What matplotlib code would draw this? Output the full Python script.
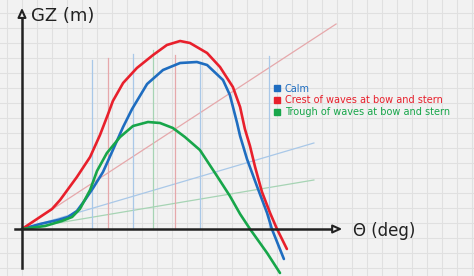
import numpy as np
import matplotlib
matplotlib.use("Agg")
import matplotlib.pyplot as plt
from matplotlib.lines import Line2D

# stability curves (heel angle in deg, GZ in m)
calm_theta = [0, 6, 12, 15.3, 18.3, 21, 23.7, 27, 30.3, 33.7, 36.7, 41.7, 47, 52.7, 58.3,
              61.7, 67, 69.3, 71.7, 72.7, 75, 78.3, 81.7, 83.3, 87.3]
calm_gz = [0, 0.025, 0.045, 0.06, 0.09, 0.145, 0.205, 0.285, 0.395, 0.51, 0.6, 0.725, 0.795,
           0.83, 0.835, 0.82, 0.745, 0.67, 0.53, 0.465, 0.35, 0.215, 0.08, 0, -0.15]

crest_theta = [0, 5, 10, 12.7, 18.3, 22.7, 26, 28.7, 30.3, 33.7, 38.3, 43.7, 48.3, 52.7,
               56, 61.7, 66, 70.3, 72.7, 74.3, 76, 77.7, 80, 82.7, 85, 88.3]
crest_gz = [0, 0.05, 0.10, 0.145, 0.26, 0.36, 0.47, 0.575, 0.64, 0.73, 0.805, 0.87, 0.92,
            0.94, 0.93, 0.88, 0.81, 0.71, 0.61, 0.5, 0.415, 0.31, 0.185, 0.08, 0, -0.10]

trough_theta = [0, 7.7, 13.3, 16.7, 19.3, 22.7, 25, 28.3, 32.7, 37, 42, 46, 50.3, 54.3,
                59.3, 65, 69.3, 72.7, 76, 81.7, 86]
trough_gz = [0, 0.015, 0.04, 0.06, 0.1, 0.195, 0.29, 0.38, 0.46, 0.515, 0.535, 0.53,
             0.505, 0.46, 0.395, 0.265, 0.165, 0.075, 0, -0.12, -0.22]

# faint construction lines
ray_end_theta = [104.7, 97.3, 97.3]
ray_end_gz = [1.025, 0.43, 0.245]
vline_theta = [23.3, 28.7, 37, 43.7, 51, 59.3, 82.3]
vline_top = [0.845, 0.855, 0.875, 0.895, 0.87, 0.835, 0.865]
vline_kind = ['b', 'r', 'b', 'g', 'r', 'b', 'b']

labels = ["Calm", "Crest of waves at bow and stern", "Trough of waves at bow and stern"]

blue = '#1f6dc0'
red = '#e8202c'
green = '#17a64a'
pale = {'b': '#a9c8e8', 'r': '#e6a8ab', 'g': '#a6d4b4'}
bg = '#f2f2f2'
ink = '#222222'

fig = plt.figure(figsize=(4.74, 2.76), dpi=100)
fig.patch.set_facecolor(bg)
ax = fig.add_axes([0, 0, 1, 1])
ax.set_facecolor(bg)
ax.set_xlim(-7.33, 150.67)
ax.set_ylim(-0.235, 1.145)
for s in ax.spines.values():
    s.set_visible(False)
ax.set_xticks([])
ax.set_yticks([])

# squared paper
for x in np.arange(-5, 151, 5):
    ax.axvline(x, color='#e0e0e0', lw=0.8, zorder=0)
for y in np.arange(-0.195, 1.15, 0.075):
    ax.axhline(y, color='#e0e0e0', lw=0.8, zorder=0)

# rays from origin
ray_cols = [pale['r'], pale['b'], pale['g']]
for tx, ty, c in zip(ray_end_theta, ray_end_gz, ray_cols):
    ax.plot([0, tx], [0, ty], color=c, lw=0.9, zorder=1)

for x, top, k in zip(vline_theta, vline_top, vline_kind):
    ax.plot([x, x], [0, top], color=pale[k], lw=0.9, zorder=1)

# curves
kw = dict(lw=1.9, zorder=3, solid_capstyle='round', solid_joinstyle='round')
ax.plot(calm_theta, calm_gz, color=blue, **kw)
ax.plot(crest_theta, crest_gz, color=red, **kw)
ax.plot(trough_theta, trough_gz, color=green, **kw)

# hand drawn axes
ax.plot([0, 0], [-0.195, 1.05], color=ink, lw=1.8, zorder=4)
ax.plot([-2.3, 104], [0, 0], color=ink, lw=1.8, zorder=4)
ax.annotate('', xy=(0, 1.12), xytext=(0, 1.04),
            arrowprops=dict(arrowstyle='-|>,head_length=0.55,head_width=0.25',
                            fc=bg, ec=ink, lw=1.5), zorder=5)
ax.annotate('', xy=(107.7, 0), xytext=(103, 0),
            arrowprops=dict(arrowstyle='-|>,head_length=0.55,head_width=0.25',
                            fc=bg, ec=ink, lw=1.5), zorder=5)

ax.text(3.0, 1.065, "GZ (m)", fontsize=13, color=ink, va='center', ha='left')
ax.text(110.5, -0.01, "Θ (deg)", fontsize=12, color=ink, va='center', ha='left')

handles = [Line2D([], [], ls='none', marker='s', ms=5, color=c) for c in (blue, red, green)]
ax.legend(handles, labels, loc='upper left', bbox_to_anchor=(0.568, 0.715),
          frameon=False, fontsize=7, labelcolor=[blue, red, green],
          handlelength=0.6, handletextpad=0.5, labelspacing=0.2, borderpad=0)

fig.savefig('out.png', dpi=100, facecolor=bg)
